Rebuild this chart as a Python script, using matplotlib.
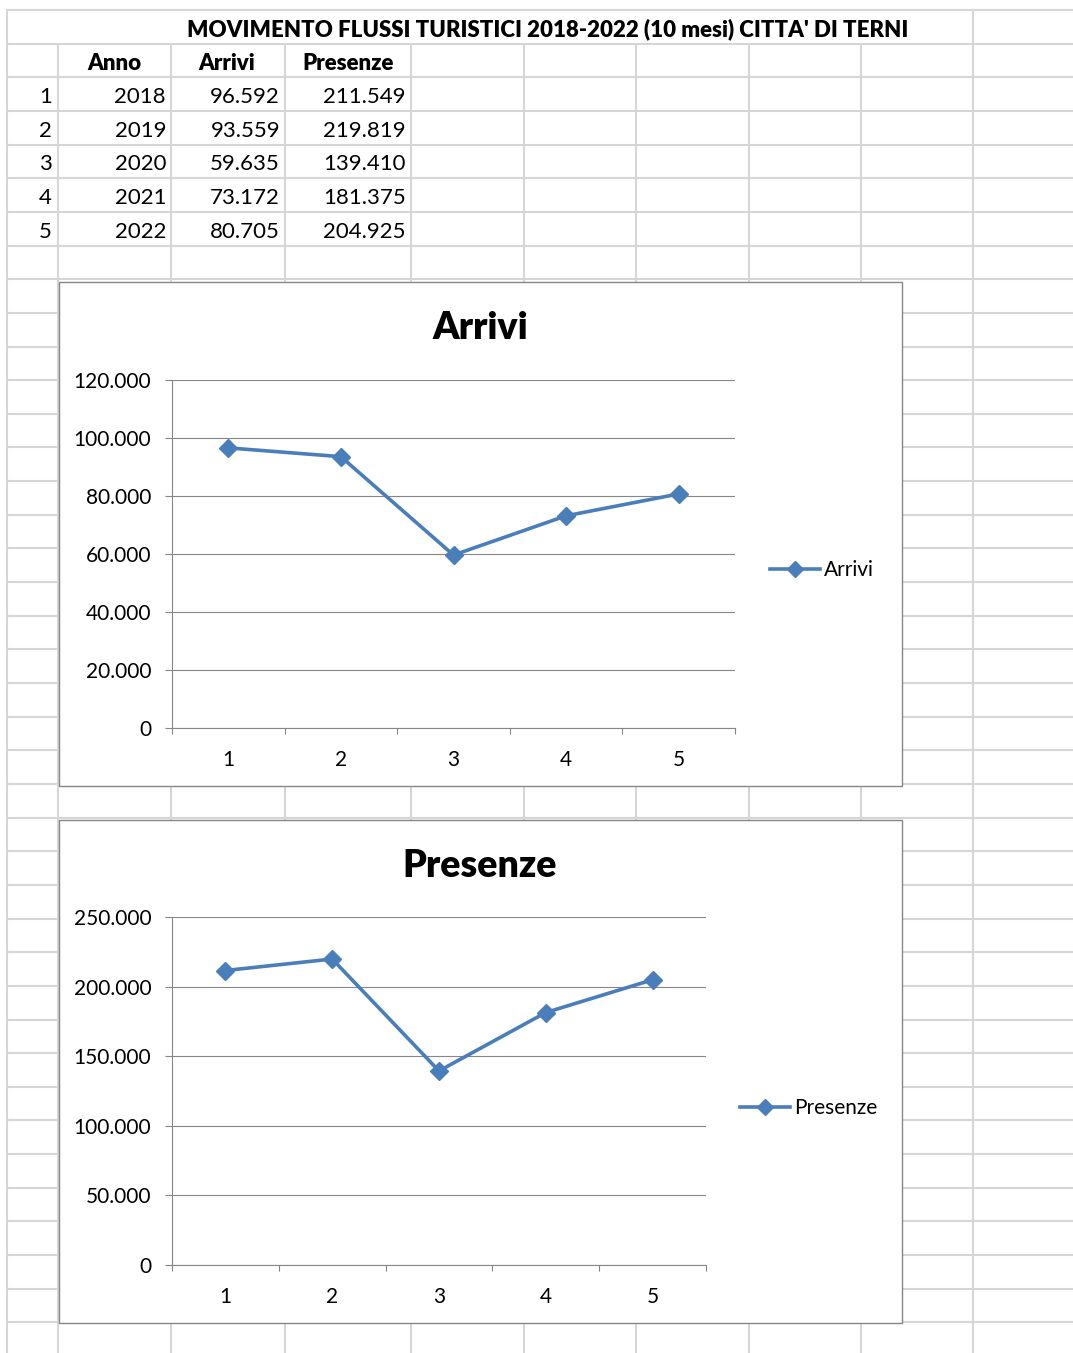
import matplotlib
matplotlib.use("Agg")
import matplotlib.pyplot as plt
from matplotlib.patches import Rectangle
from matplotlib.ticker import FuncFormatter, FixedLocator

plt.rcParams["font.family"] = ["Lato", "DejaVu Sans"]

# sheet contents
TITLE = "MOVIMENTO FLUSSI TURISTICI 2018-2022 (10 mesi) CITTA' DI TERNI"
headers = ["Anno", "Arrivi", "Presenze"]
years = [2018, 2019, 2020, 2021, 2022]
arrivi = [96592, 93559, 59635, 73172, 80705]
presenze = [211549, 219819, 139410, 181375, 204925]
categories = [1, 2, 3, 4, 5]

BLUE = "#4A7EBB"
AXIS_GRAY = "#868686"
CELL_GRAY = "#D6D6D6"

# canvas in pixels
W, H = 1073, 1353
ROW0, ROW_H = 10, 33.65
COL_X = [7, 58, 171, 285, 411, 524, 636, 749, 861, 973]


def it_num(v, pos=None):
    return f"{int(round(v)):,}".replace(",", ".")


def row_y(i):
    return ROW0 + (i + 0.5) * ROW_H + 3


def fig_rect(x0, y0, x1, y1):
    return [x0 / W, 1 - y1 / H, (x1 - x0) / W, (y1 - y0) / H]


fig = plt.figure(figsize=(W / 100, H / 100), dpi=100)
bg = fig.add_axes([0, 0, 1, 1], zorder=0)
bg.set_xlim(0, W)
bg.set_ylim(H, 0)
bg.axis("off")

# spreadsheet cell grid
n_rows = int((H - ROW0) / ROW_H) + 1
for k in range(n_rows + 1):
    y = ROW0 + k * ROW_H
    bg.plot([COL_X[0], W], [y, y], color=CELL_GRAY, lw=1.5, zorder=1)
for x in COL_X:
    y_start = ROW0 if x in (COL_X[0], COL_X[-1]) else ROW0 + ROW_H
    bg.plot([x, x], [y_start, H], color=CELL_GRAY, lw=1.5, zorder=1)

# table
bg.text(548, row_y(0) - 1, TITLE, ha="center", va="center", fontsize=16,
        fontweight="heavy", zorder=3)
for hx, label in zip([114, 227, 348], headers):
    bg.text(hx, row_y(1), label, ha="center", va="center", fontsize=16,
            fontweight="heavy", zorder=3)
for i, (yr, a, p) in enumerate(zip(years, arrivi, presenze)):
    y = row_y(i + 2)
    bg.text(52, y, str(categories[i]), ha="right", va="center", fontsize=16, zorder=3)
    bg.text(166, y, str(yr), ha="right", va="center", fontsize=16, zorder=3)
    bg.text(280, y, it_num(a), ha="right", va="center", fontsize=16, zorder=3)
    bg.text(406, y, it_num(p), ha="right", va="center", fontsize=16, zorder=3)


def draw_chart(box, plot, values, title, ymax, ystep, legend_xy):
    x0, y0, x1, y1 = box
    bg.add_patch(Rectangle((x0, y0), x1 - x0, y1 - y0, facecolor="white",
                           edgecolor=AXIS_GRAY, lw=1.0, zorder=2))
    bg.text(480, y0 + 46, title, ha="center", va="center",
            fontsize=27, fontweight="heavy", zorder=3)

    ax = fig.add_axes(fig_rect(*plot), zorder=2)
    ax.patch.set_visible(False)
    ax.plot(categories, values, color=BLUE, lw=2.6, marker="D", ms=9,
            mec=BLUE, mfc=BLUE, label=title, clip_on=False, zorder=3)

    ax.set_xlim(0.5, 5.5)
    ax.set_ylim(0, ymax)
    ax.yaxis.set_major_locator(FixedLocator(list(range(0, ymax + 1, ystep))))
    ax.yaxis.set_major_formatter(FuncFormatter(it_num))
    ax.xaxis.set_major_locator(FixedLocator(categories))
    ax.xaxis.set_minor_locator(FixedLocator([c - 0.5 for c in categories] + [5.5]))
    ax.grid(axis="y", color=AXIS_GRAY, lw=0.8)
    ax.set_axisbelow(True)

    for side in ("top", "right"):
        ax.spines[side].set_visible(False)
    for side in ("left", "bottom"):
        ax.spines[side].set_color(AXIS_GRAY)
        ax.spines[side].set_linewidth(0.8)

    ax.tick_params(axis="y", length=5, width=0.8, color=AXIS_GRAY,
                   direction="out", pad=10, labelsize=15)
    ax.tick_params(axis="x", which="major", length=0, pad=16, labelsize=15)
    ax.tick_params(axis="x", which="minor", length=4.5, width=0.8,
                   color=AXIS_GRAY, direction="out")

    lx, ly = legend_xy
    ax.legend(loc="center left", bbox_to_anchor=(lx / W, 1 - ly / H),
              bbox_transform=fig.transFigure, frameon=False, fontsize=15,
              handlelength=2.4, handletextpad=0.2, borderpad=0,
              borderaxespad=0, markerscale=0.85)
    return ax


draw_chart((59, 282, 902, 786), (172, 380, 735, 728), arrivi, "Arrivi",
           120000, 20000, (770, 570))
draw_chart((59, 820, 902, 1323), (172, 917, 706, 1265), presenze, "Presenze",
           250000, 50000, (740, 1108))

fig.savefig("out.png", dpi=100)
